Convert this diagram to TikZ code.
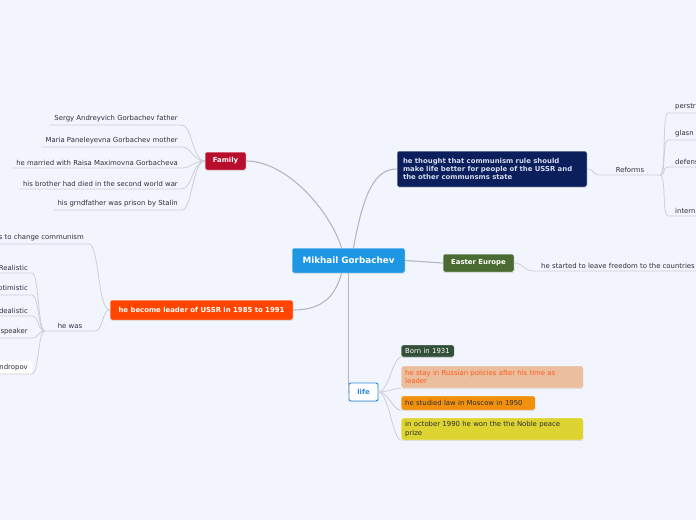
\documentclass[tikz,border=0pt]{standalone}
\usepackage{fontspec}
\setmainfont{DejaVu Sans}
\usepackage{tikz}
\usetikzlibrary{shadows, calc}
\definecolor{bgpaper}{HTML}{F3F5FE}
\definecolor{central}{HTML}{1E96E4}
\definecolor{family}{HTML}{B80D2C}
\definecolor{leader}{HTML}{FF4500}
\definecolor{thought}{HTML}{0C1F5D}
\definecolor{thoughttext}{HTML}{D6DBEE}
\definecolor{easter}{HTML}{4A6B31}
\definecolor{lifeblue}{HTML}{2A87DE}
\definecolor{born}{HTML}{33503A}
\definecolor{stay}{HTML}{EBBE9E}
\definecolor{staytext}{HTML}{FF5A1E}
\definecolor{studied}{HTML}{F0900D}
\definecolor{nobel}{HTML}{DDD331}
\definecolor{leaftext}{HTML}{2E2E36}
\definecolor{branchgray}{HTML}{B4B6C0}
\definecolor{twiggray}{HTML}{CDCFD8}
\newcommand\leafsize{\fontsize{6.9}{8.2}\selectfont}

\begin{document}
\begin{tikzpicture}[
  x=1pt, y=-1pt,
  topic/.style={rectangle, rounded corners=2pt, draw=white, line width=0.5pt, font=\bfseries\leafsize, text=white, minimum height=18pt, inner xsep=6pt, drop shadow={shadow xshift=0.3pt, shadow yshift=-0.9pt, opacity=0.25}},
  card/.style={rectangle, rounded corners=2pt, draw=white, line width=0.4pt, font=\leafsize, text=leaftext, inner xsep=4pt, inner ysep=1pt, anchor=west, align=left, drop shadow={shadow xshift=0.3pt, shadow yshift=-0.9pt, opacity=0.2}},
  leaf/.style={font=\leafsize, text=leaftext, inner xsep=4pt, inner ysep=2.5pt},
  branch/.style={draw=branchgray, line width=1.1pt},
  twig/.style={draw=twiggray, line width=0.8pt},
]
\useasboundingbox (0,0) rectangle (696,520);
\clip (0,0) rectangle (696,520);
\fill[bgpaper] (0,0) rectangle (696,520);

% main topics
\node[topic, fill=central, font=\bfseries\fontsize{8.8}{10.4}\selectfont, minimum width=113pt, minimum height=25pt] (ctr) at (348.5,260.5) {Mikhail Gorbachev};
\node[topic, fill=family, minimum width=41pt] (fam) at (225.5,161) {Family};
\node[topic, fill=leader, minimum width=183pt, minimum height=20pt] (ldr) at (201.5,310) {he become leader of USSR in 1985 to 1991};
\node[topic, fill=thought, text=thoughttext, text width=178pt, align=left, minimum height=36pt, inner ysep=2pt] (thk) at (492,169) {he thought that communism rule should\\make life better for people of the USSR and\\the other communsms state};
\node[topic, fill=easter, minimum width=71pt] (eas) at (478.5,263) {Easter Europe};
\node[topic, fill=white, draw=lifeblue, text=lifeblue, line width=0.9pt, minimum width=29pt] (life) at (363.5,392) {life};

% family
\node[leaf, anchor=south east] (f1) at (182,125) {Sergy Andreyvich Gorbachev father};
\node[leaf, anchor=south east] (f2) at (182,147) {Maria Paneleyevna Gorbachev mother};
\node[leaf, anchor=south east] (f3) at (182,168) {he married with Raisa Maximovna Gorbacheva};
\node[leaf, anchor=south east] (f4) at (182,189) {his brother had died in the second world war};
\node[leaf, anchor=south east] (f5) at (182,210) {his grndfather was prison by Stalin};

% leader
\node[leaf, anchor=south east, inner xsep=5pt] (c1) at (89,244) {s to change communism};
\node[leaf, anchor=south, minimum width=50pt] (hw) at (70,331) {he was};
\node[leaf, anchor=south east] (w1) at (32,273) {Realistic};
\node[leaf, anchor=south east] (w2) at (32,295) {optimistic};
\node[leaf, anchor=south east] (w3) at (32,316) {idealistic};
\node[leaf, anchor=south east] (w4) at (32,338) {speaker};
\node[leaf, anchor=south east, fill=white, rounded corners=1.5pt, inner ysep=3pt] (w5) at (32,374) {Andropov};

% reforms
\node[leaf, anchor=south, minimum width=60pt] (ref) at (630,175) {Reforms};
\node[leaf, anchor=south west, inner xsep=7pt] (r1) at (668,113) {perstr};
\node[leaf, anchor=south west, inner xsep=7pt] (r2) at (668,140) {glasn};
\node[leaf, anchor=south west, inner xsep=7pt] (r3) at (668,167) {defens};
\node[leaf, anchor=south west, inner xsep=7pt] (r4) at (668,216) {intern};

% easter europe
\node[leaf, anchor=south west, inner xsep=8pt] (e1) at (533,271) {he started to leave freedom to the countries};

% life
\node[card, fill=born, text=white, text width=45pt, minimum height=12pt] (l1) at (401,351) {Born in 1931};
\node[card, fill=stay, text=staytext, text width=174pt, minimum height=22pt] (l2) at (401,377) {he stay in Russian policies after his time as\\leader};
\node[card, fill=studied, text width=126pt, minimum height=14pt] (l3) at (401,403) {he studied law in Moscow in 1950};
\node[card, fill=nobel, text width=174pt, minimum height=22pt] (l4) at (401,429) {in october 1990 he won the the Noble peace\\prize};

% connectors
\draw[branch] ($(ctr.north)+(-7,0)$) .. controls +(-12,-38) and +(40,0) .. (fam.east);
\draw[branch] ($(ctr.north)+(5,0)$) .. controls +(10,-55) and +(-22,0) .. (thk.west);
\draw[branch] ($(ctr.south)+(-7,0)$) .. controls +(-6,22) and +(30,0) .. (ldr.east);
\draw[branch] (ctr.east) -- (eas.west);
\draw[branch] (ctr.south) |- (life.west);

\draw[twig] (fam.west) .. controls +(-12,0) and +(10,0) .. (f1.south east) -- (f1.south west);
\draw[twig] (fam.west) .. controls +(-12,0) and +(10,0) .. (f2.south east) -- (f2.south west);
\draw[twig] (fam.west) .. controls +(-12,0) and +(10,0) .. (f3.south east) -- (f3.south west);
\draw[twig] (fam.west) .. controls +(-12,0) and +(10,0) .. (f4.south east) -- (f4.south west);
\draw[twig] (fam.west) .. controls +(-12,0) and +(10,0) .. (f5.south east) -- (f5.south west);

\draw[twig] (ldr.west) .. controls +(-12,0) and +(10,0) .. (c1.south east) -- (c1.south west);
\draw[twig] (ldr.west) .. controls +(-8,0) and +(8,0) .. (hw.south east) -- (hw.south west);
\draw[twig] (hw.south west) .. controls +(-7,0) and +(7,0) .. (w1.south east) -- (w1.south west);
\draw[twig] (hw.south west) .. controls +(-7,0) and +(7,0) .. (w2.south east) -- (w2.south west);
\draw[twig] (hw.south west) .. controls +(-7,0) and +(7,0) .. (w3.south east) -- (w3.south west);
\draw[twig] (hw.south west) .. controls +(-7,0) and +(7,0) .. (w4.south east) -- (w4.south west);
\draw[twig] (hw.south west) .. controls +(-7,0) and +(7,0) .. (w5.south east) -- (w5.south west);

\draw[twig] (thk.east) .. controls +(8,0) and +(-8,0) .. (ref.south west) -- (ref.south east);
\draw[twig] (ref.south east) .. controls +(6,0) and +(-6,0) .. (r1.south west) -- (r1.south east);
\draw[twig] (ref.south east) .. controls +(6,0) and +(-6,0) .. (r2.south west) -- (r2.south east);
\draw[twig] (ref.south east) .. controls +(6,0) and +(-6,0) .. (r3.south west) -- (r3.south east);
\draw[twig] (ref.south east) .. controls +(6,0) and +(-6,0) .. (r4.south west) -- (r4.south east);

\draw[twig] (eas.east) .. controls +(9,0) and +(-9,0) .. (e1.south west) -- (e1.south east);

\draw[twig] (life.east) .. controls +(10,0) and +(-8,0) .. (l1.south west);
\draw[twig] (life.east) .. controls +(10,0) and +(-8,0) .. (l2.south west);
\draw[twig] (life.east) .. controls +(10,0) and +(-8,0) .. (l3.south west);
\draw[twig] (life.east) .. controls +(10,0) and +(-8,0) .. (l4.south west);
\end{tikzpicture}
\end{document}
